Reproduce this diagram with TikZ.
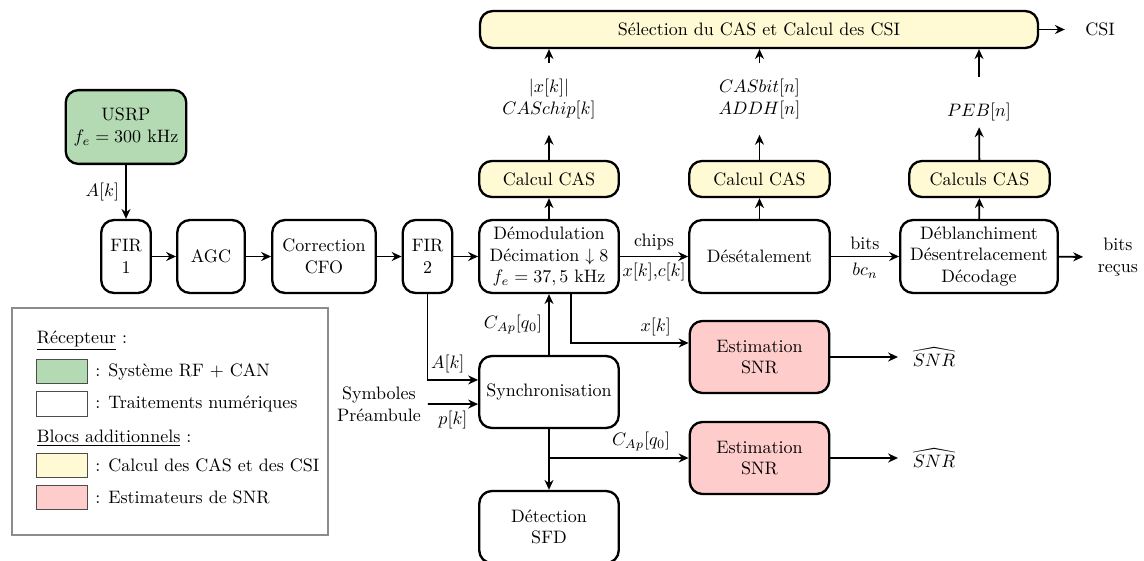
\documentclass[tikz,border=0pt]{standalone}
\usepackage{amsmath, amssymb}
\usetikzlibrary{arrows.meta,positioning}
\definecolor{rfgreen}{RGB}{179,218,179}
\definecolor{casyellow}{RGB}{255,249,212}
\definecolor{snrred}{RGB}{255,204,204}
\tikzset{
        block/.style={align=center, rounded corners=7pt, draw=black, line width=1.3pt, inner sep=2pt},
        % Radio front end
        block_rf/.style={block, fill=rfgreen, minimum width=67pt, minimum height=41pt},
        % Digital processing
        block_rx/.style={block, fill=white, minimum height=40.5pt},
        % CAS and CSI computation
        block_cas/.style={block, fill=casyellow, minimum height=20pt},
        % SNR estimators
        block_snr/.style={block, fill=snrred, minimum width=77.5pt, minimum height=40pt},
        % Signal names between blocks
        sig_label/.style={align=center, inner sep=8.4pt},
        % Legend
        legend_title/.style={anchor=west, inner sep=0pt},
        legend_swatch/.style={draw=black!70, line width=0.6pt, anchor=west, minimum width=28.5pt, minimum height=13.5pt, inner sep=0pt}
}

\begin{document}
\begin{tikzpicture}[
            x=0.5556pt, y=-0.5556pt,
            ->,
            >={Stealth[length=5.5pt,width=5pt]},
            line width=1pt
        ]
            \useasboundingbox (0,0) rectangle (1144,560);

            % receiver chain
            \node[block_rf] (usrp) at (126,127) {USRP\\$f_e = 300$ kHz};
            \node[block_rx, minimum width=27.5pt] (fir_1) at (126,256.5) {FIR\\1};
            \node[block_rx, minimum width=37.5pt] (agc) at (211,256.5) {AGC};
            \node[block_rx, minimum width=57.5pt] (cfo) at (324,256.5) {Correction\\CFO};
            \node[block_rx, minimum width=27.5pt] (fir_2) at (427.5,256.5) {FIR\\2};
            \node[block_rx, minimum width=77.5pt] (demod) at (549,256.5) {D\'emodulation\\D\'ecimation $\downarrow 8$\\$f_e = 37,5$ kHz};
            \node[block_rx, minimum width=78pt] (despread) at (759.5,256.5) {D\'es\'etalement};
            \node[block_rx, minimum width=87.5pt] (decod) at (979,256.5) {D\'eblanchiment\\D\'esentrelacement\\D\'ecodage};
            \node[align=center] (bits_out) at (1118,257) {bits\\re\c{c}us};

            % CAS / CSI
            \node[block_cas, minimum width=77.5pt] (cas_chip) at (549,179) {Calcul CAS};
            \node[block_cas, minimum width=78pt] (cas_bit) at (759.5,179) {Calcul CAS};
            \node[block_cas, minimum width=78pt] (cas_peb) at (979.5,179) {Calculs CAS};
            \node[block_cas, minimum width=310pt, minimum height=20.5pt] (select) at (759,29.5) {S\'election du CAS et Calcul des CSI};
            \node (csi) at (1100,29.5) {CSI};
            \node[sig_label] (lab_chip) at (549,99) {$|x[k]|$\\$CASchip[k]$};
            \node[sig_label] (lab_bit) at (759.5,99) {$CASbit[n]$\\$ADDH[n]$};
            \node[inner sep=3pt] (lab_peb) at (979,112) {$PEB[n]$};

            % synchronisation and SNR
            \node[block_rx, minimum width=77.5pt, minimum height=40pt] (sync) at (549,392) {Synchronisation};
            \node[block_rx, minimum width=77.5pt, minimum height=40pt] (sfd) at (549,527) {D\'etection\\SFD};
            \node[align=center] (preamb) at (379,404) {Symboles\\Pr\'eambule};
            \node[block_snr] (snr_1) at (759.5,357) {Estimation\\SNR};
            \node[block_snr] (snr_2) at (759.5,458) {Estimation\\SNR};
            \node (snr_hat_1) at (934,357) {$\widehat{SNR}$};
            \node (snr_hat_2) at (934,458) {$\widehat{SNR}$};

            \draw (usrp) -- node[left] {$A[k]$} (fir_1);
            \draw (fir_1) -- (agc);
            \draw (agc) -- (cfo);
            \draw (cfo) -- (fir_2);
            \draw (fir_2) -- (demod);
            \draw (demod) -- node[above] {chips} node[below] {$x[k]$,$c[k]$} (despread);
            \draw (despread) -- node[above] {bits} node[below] {$bc_n$} (decod);
            \draw[shorten >=4.4pt] (decod) -- (bits_out);

            \draw (demod) -- (cas_chip);
            \draw (cas_chip) -- (lab_chip);
            \draw (lab_chip) -- (select.south -| lab_chip);
            \draw (despread) -- (cas_bit);
            \draw (cas_bit) -- (lab_bit);
            \draw (lab_bit) -- (select.south -| lab_bit);
            \draw (decod) -- (cas_peb);
            \draw (cas_peb) -- (lab_peb);
            \draw ([yshift=11pt]lab_peb.north) -- (select.south -| lab_peb);
            \draw[shorten >=7.5pt] (select) -- (csi);

            \draw (fir_2) |- node[above, pos=0.7] {$A[k]$} ([yshift=6.7pt]sync.west);
            \draw (preamb) -- node[below] {$p[k]$} ([yshift=-6.7pt]sync.west);
            \draw (sync) -- node[left] {$C_{Ap}[q_0]$} (demod);
            \draw ([xshift=12.2pt]demod.south) |- node[above, pos=0.86] {$x[k]$} ([yshift=7.8pt]snr_1.west);
            \draw (sync) -- (sfd);
            \draw (sync.south |- snr_2) -- node[above, pos=0.66] {$C_{Ap}[q_0]$} (snr_2);
            \draw[shorten >=4.4pt] (snr_1) -- (snr_hat_1);
            \draw[shorten >=4.4pt] (snr_2) -- (snr_hat_2);

            % legend
            \draw[-, draw=black!45, line width=0.6pt] (12,308) rectangle (328,535);
            \node[legend_title] (leg_rx) at (36,341) {\underline{R\'ecepteur} :};
            \node[legend_swatch, fill=rfgreen] (sw_rf) at (36,371.5) {};
            \node[right=0pt of sw_rf] (leg_rf) {: Syst\`eme RF + CAN};
            \node[legend_swatch, fill=white] (sw_rx) at (36,404) {};
            \node[right=0pt of sw_rx] (leg_num) {: Traitements num\'eriques};
            \node[legend_title] (leg_add) at (36,438) {\underline{Blocs additionnels} :};
            \node[legend_swatch, fill=casyellow] (sw_cas) at (36,465.5) {};
            \node[right=0pt of sw_cas] (leg_cas) {: Calcul des CAS et des CSI};
            \node[legend_swatch, fill=snrred] (sw_snr) at (36,497.5) {};
            \node[right=0pt of sw_snr] (leg_snr) {: Estimateurs de SNR};
        \end{tikzpicture}
\end{document}
